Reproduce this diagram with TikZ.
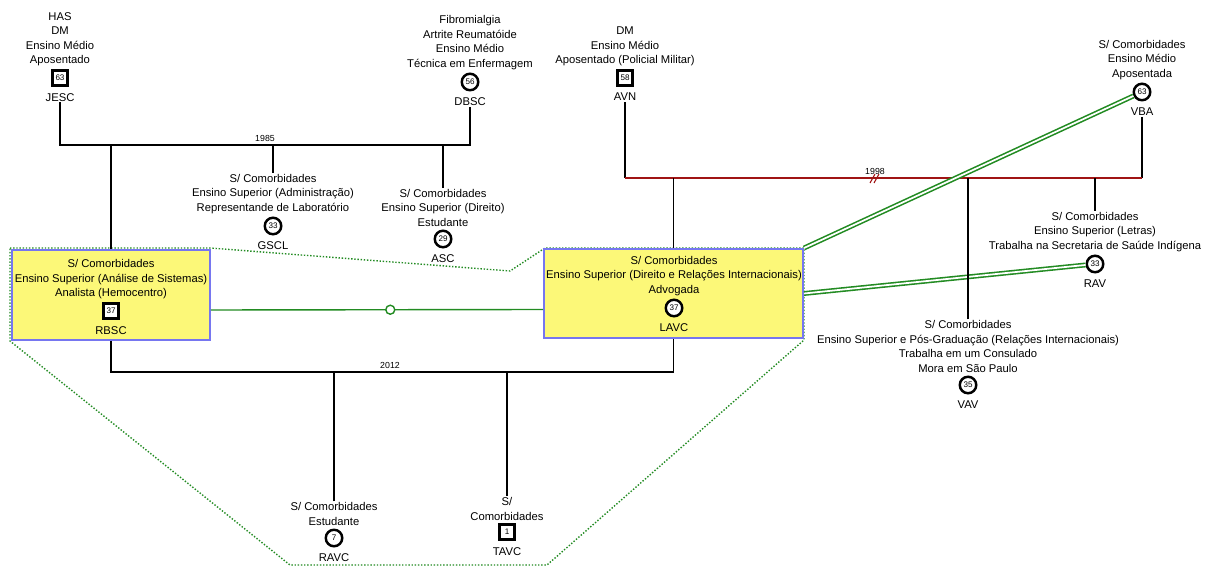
\documentclass[tikz,border=0pt]{standalone}
\usepackage{fontspec}
\setmainfont{Liberation Sans}
\usetikzlibrary{positioning,calc}

\definecolor{boxyellow}{RGB}{252,248,120}
\definecolor{boxblue}{RGB}{118,118,240}
\definecolor{kingreen}{RGB}{34,139,34}
\definecolor{marred}{RGB}{160,20,20}

\newcommand{\gfont}{\fontsize{6.4}{8.3}\selectfont}
\newcommand{\agefont}{\fontsize{4.6}{5}\selectfont}
\newcommand{\yearfont}{\fontsize{5}{6}\selectfont}

\begin{document}
\begin{tikzpicture}[
        x=0.02cm, y=-0.02cm,
        male/.style={rectangle, draw=black, line width=1.4pt, minimum size=0.3cm, inner sep=0pt, font=\agefont, fill=white},
        female/.style={circle, draw=black, line width=1.4pt, minimum size=0.33cm, inner sep=0pt, font=\agefont, fill=white},
        info/.style={align=center, font=\gfont, inner sep=0.5pt},
        idname/.style={font=\gfont, inner sep=0.5pt},
        year/.style={font=\yearfont, inner sep=0pt},
        union/.style={line width=0.8pt},
        house/.style={rectangle, draw=boxblue, line width=1.1pt, fill=boxyellow},
        tie/.style={draw=kingreen, line width=0.8pt},
        bondline/.style={draw=kingreen, line width=0.9pt, double=white, double distance=1pt},
        bound/.style={draw=kingreen, line width=0.8pt, densely dotted}
    ]
        \useasboundingbox (0,0) rectangle (1206,567);

        % Limite do domicilio
        \draw[bound] (10,248) -- (210,248) -- (510,271) -- (545,248) -- (804,248)
            -- (804,340) -- (547,565) -- (290,565) -- (10,341) -- cycle;

        % Domicilios
        \node[house, minimum width=3.96cm, minimum height=1.8cm] (rbscbox) at (111,295) {};
        \node[house, minimum width=5.18cm, minimum height=1.78cm] (lavcbox) at (673.5,293.5) {};

        % Primeira geracao
        \node[male] (jesc) at (60,78) {63};
        \node[info, above=1pt of jesc] (jesc-info) {HAS\\DM\\Ensino Médio\\Aposentado};
        \node[idname, below=3pt of jesc] (jesc-nm) {JESC};

        \node[female] (dbsc) at (470,82) {56};
        \node[info, above=1pt of dbsc] (dbsc-info) {Fibromialgia\\Artrite Reumatóide\\Ensino Médio\\Técnica em Enfermagem};
        \node[idname, below=3pt of dbsc] (dbsc-nm) {DBSC};

        \node[male] (avn) at (625,78) {58};
        \node[info, above=1pt of avn] (avn-info) {DM\\Ensino Médio\\Aposentado (Policial Militar)};
        \node[idname, below=3pt of avn] (avn-nm) {AVN};

        \node[female] (vba) at (1142,92) {63};
        \node[info, above=1pt of vba] (vba-info) {S/ Comorbidades\\Ensino Médio\\Aposentada};
        \node[idname, below=3pt of vba] (vba-nm) {VBA};

        % Segunda geracao
        \node[female] (gscl) at (273,226) {33};
        \node[info, above=1pt of gscl] (gscl-info) {S/ Comorbidades\\Ensino Superior (Administração)\\Representande de Laboratório};
        \node[idname, below=3pt of gscl] (gscl-nm) {GSCL};

        \node[female] (asc) at (443,239) {29};
        \node[info, above=1pt of asc] (asc-info) {S/ Comorbidades\\Ensino Superior (Direito)\\Estudante};
        \node[idname, below=3pt of asc] (asc-nm) {ASC};

        \node[male] (rbsc) at (111,311) {37};
        \node[info, above=1pt of rbsc] (rbsc-info) {S/ Comorbidades\\Ensino Superior (Análise de Sistemas)\\Analista (Hemocentro)};
        \node[idname, below=3pt of rbsc] (rbsc-nm) {RBSC};

        \node[female] (lavc) at (674,308) {37};
        \node[info, above=1pt of lavc] (lavc-info) {S/ Comorbidades\\Ensino Superior (Direito e Relações Internacionais)\\Advogada};
        \node[idname, below=3pt of lavc] (lavc-nm) {LAVC};

        \node[female] (rav) at (1095,264) {33};
        \node[info, above=1pt of rav] (rav-info) {S/ Comorbidades\\Ensino Superior (Letras)\\Trabalha na Secretaria de Saúde Indígena};
        \node[idname, below=3pt of rav] (rav-nm) {RAV};

        \node[female] (vav) at (968,385) {35};
        \node[info, above=1pt of vav] (vav-info) {S/ Comorbidades\\Ensino Superior e Pós-Graduação (Relações Internacionais)\\Trabalha em um Consulado\\Mora em São Paulo};
        \node[idname, below=3pt of vav] (vav-nm) {VAV};

        % Terceira geracao
        \node[female] (ravc) at (334,538) {7};
        \node[info, above=1pt of ravc] (ravc-info) {S/ Comorbidades\\Estudante};
        \node[idname, below=3pt of ravc] (ravc-nm) {RAVC};

        \node[male] (tavc) at (507,532) {1};
        \node[info, above=1pt of tavc] (tavc-info) {S/\\Comorbidades};
        \node[idname, below=3pt of tavc] (tavc-nm) {TAVC};

        % Casamento 1985
        \coordinate (m85) at (265,145);
        \draw[union] (jesc-nm.south) |- (m85) -| (dbsc-nm.south);
        \node[year, above=2pt of m85] (y85) {1985};
        \foreach \kid in {gscl-info, asc-info, rbscbox} {
            \draw[union] (\kid.north) -- (\kid.north |- m85);
        }

        % Casamento 1998
        \coordinate (m98) at (875,178);
        \draw[union] (avn-nm.south) -- (avn-nm.south |- m98);
        \draw[union] (vba-nm.south) -- (vba-nm.south |- m98);
        \draw[union, draw=marred] (avn-nm.south |- m98) -- (vba-nm.south |- m98);
        \draw[marred, line width=0.6pt] ($(m98)+(-5,5)$) -- ++(5,-9);
        \draw[marred, line width=0.6pt] ($(m98)+(-1,5)$) -- ++(5,-9);
        \node[year, above=2pt of m98] (y98) {1998};

        % Relacoes proximas
        \draw[bondline] (lavcbox.north east) -- (vba);
        \draw[bondline] (lavcbox.east) -- (rav);
        \draw[tie] ($(rbscbox.east)+(0,15)$) -- node[pos=0.54, circle, draw=kingreen, fill=white, line width=0.8pt, minimum size=0.18cm, inner sep=0pt] (sep) {} ($(lavcbox.west)+(0,16)$);

        \foreach \kid in {lavcbox, rav-info, vav-info} {
            \draw[union] (\kid.north) -- (\kid.north |- m98);
        }

        % Casamento 2012
        \coordinate (m12) at (390,372);
        \draw[union] (rbscbox.south) |- (m12) -| (lavcbox.south);
        \node[year, above=2pt of m12] (y12) {2012};
        \foreach \kid in {ravc-info, tavc-info} {
            \draw[union] (\kid.north) -- (\kid.north |- m12);
        }
    \end{tikzpicture}
\end{document}
